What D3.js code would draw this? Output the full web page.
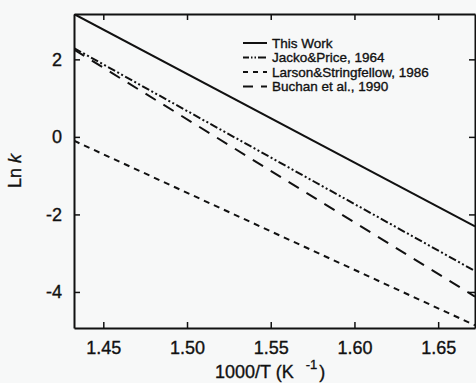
<!DOCTYPE html>
<html>
<head>
<meta charset="utf-8">
<script src="https://cdn.jsdelivr.net/npm/d3@7"></script>
<style>
  body { margin: 0; background: #f7f8f8; }
  text { font-family: "Liberation Sans", Arial, sans-serif; fill: #111; stroke: #111; stroke-width: 0.35px; }
</style>
</head>
<body>
<div id="canvas"></div>
<script>
// data (straight Arrhenius lines, two end points each)
const xVals = [1.4325, 1.672];
const thisWork = [3.17, -2.31];
const jackoPrice = [2.29, -3.46];
const larsonStringfellow = [-0.10, -4.86];
const buchan = [2.25, -4.12];

const xTicks = [1.45, 1.50, 1.55, 1.60, 1.65];
const yTicks = [2, 0, -2, -4];

const seriesNames = ["This Work", "Jacko&Price, 1964", "Larson&Stringfellow, 1986", "Buchan et al., 1990"];
const dashes = [null, "8,2.5,2,2.5,2,2.5", "6,5", "12,9"];
const legendDashes = [null, "6,2,1.5,2,1.5,2,8", "5,5", "10,8"];

const width = 476;
const height = 383;
const margin = { top: 14, left: 74, bottom: 55, right: 1 };
const iwidth = width - margin.left - margin.right;
const iheight = height - margin.top - margin.bottom;

const svg = d3.select("#canvas").append("svg")
    .attr("width", width)
    .attr("height", height);

const g = svg.append("g").attr("transform", `translate(${margin.left},${margin.top})`);

const x = d3.scaleLinear()
    .domain([1.4325, 1.672])
    .range([0, iwidth]);

const y = d3.scaleLinear()
    .domain([-4.93, 3.17])
    .range([iheight, 0]);

const allSeries = [thisWork, jackoPrice, larsonStringfellow, buchan];

const line = d3.line()
    .x(d => x(d[0]))
    .y(d => y(d[1]));

g.append("defs").append("clipPath").attr("id", "clip")
    .append("rect").attr("width", iwidth).attr("height", iheight);

g.selectAll(".series").data(allSeries).enter().append("path")
    .attr("class", "series")
    .attr("clip-path", "url(#clip)")
    .attr("d", s => line(xVals.map((xv, i) => [xv, s[i]])))
    .attr("fill", "none")
    .attr("stroke", "#111")
    .attr("stroke-width", 2)
    .attr("stroke-dasharray", (s, i) => dashes[i]);

// axes, ticks pointing inside on all four sides
g.append("g")
    .attr("transform", `translate(0,${iheight})`)
    .call(d3.axisBottom(x).tickValues(xTicks).tickFormat(d3.format(".2f")).tickSizeInner(-6).tickSizeOuter(0).tickPadding(10))
    .call(a => a.selectAll("text").attr("font-size", 18).attr("dy", "0.9em"));

g.append("g")
    .call(d3.axisTop(x).tickValues(xTicks).tickFormat("").tickSizeInner(-6).tickSizeOuter(0));

g.append("g")
    .call(d3.axisLeft(y).tickValues(yTicks).tickFormat(d => String(d)).tickSizeInner(-6).tickSizeOuter(0).tickPadding(12))
    .call(a => a.selectAll("text").attr("font-size", 18));

g.append("g")
    .attr("transform", `translate(${iwidth},0)`)
    .call(d3.axisRight(y).tickValues(yTicks).tickFormat("").tickSizeInner(-6).tickSizeOuter(0));

g.selectAll(".domain").attr("stroke", "#111").attr("stroke-width", 2);
g.selectAll(".tick line").attr("stroke", "#111").attr("stroke-width", 1.5);
g.selectAll(".tick text").attr("fill", "#111").style("font-family", "'Liberation Sans', Arial, sans-serif");

// axis titles
const xt = svg.append("text")
    .attr("x", 215)
    .attr("y", 378)
    .attr("font-size", 18);
xt.append("tspan").text("1000/T  (K");
xt.append("tspan").attr("dx", 12).attr("dy", -9).attr("font-size", 13).text("-1");
xt.append("tspan").attr("dx", 2).attr("dy", 9).text(")");

const yt = svg.append("text")
    .attr("transform", "translate(21,171) rotate(-90)")
    .attr("text-anchor", "middle")
    .attr("font-size", 18);
yt.append("tspan").text("Ln ");
yt.append("tspan").attr("font-style", "italic").text("k");

// legend
const legend = svg.append("g").attr("transform", "translate(243,43)");
const rows = legend.selectAll("g").data(seriesNames).enter().append("g")
    .attr("transform", (d, i) => `translate(0,${i * 14.5})`);
rows.append("line")
    .attr("x1", 0).attr("x2", 24)
    .attr("stroke", "#111")
    .attr("stroke-width", 2)
    .attr("stroke-dasharray", (d, i) => legendDashes[i]);
rows.append("text")
    .attr("x", 29)
    .attr("dy", "0.35em")
    .attr("font-size", 13.5)
    .text(d => d);
</script>
</body>
</html>
